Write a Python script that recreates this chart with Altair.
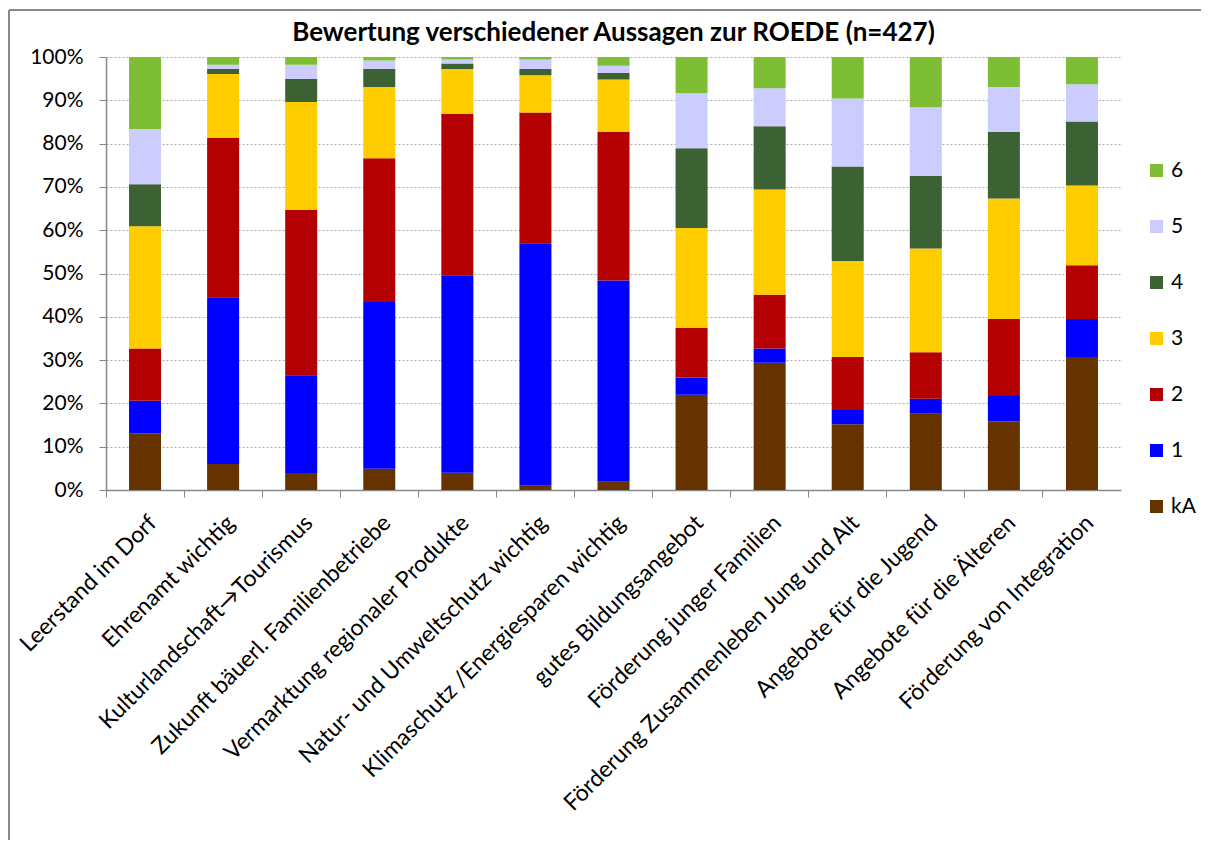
import altair as alt
import pandas as pd

categories = [
    "Leerstand im Dorf",
    "Ehrenamt wichtig",
    "Kulturlandschaft→Tourismus",
    "Zukunft bäuerl. Familienbetriebe",
    "Vermarktung regionaler Produkte",
    "Natur- und Umweltschutz wichtig",
    "Klimaschutz /Energiesparen wichtig",
    "gutes Bildungsangebot",
    "Förderung junger Familien",
    "Förderung Zusammenleben Jung und Alt",
    "Angebote für die Jugend",
    "Angebote für die Älteren",
    "Förderung von Integration",
]

series_names = ["kA", "1", "2", "3", "4", "5", "6"]
v_kA = [13.1, 6.0, 3.9, 4.9, 4.0, 1.0, 1.9, 22.0, 29.4, 15.2, 17.6, 15.8, 30.7]
v_1 = [7.5, 38.5, 22.6, 38.5, 45.6, 56.0, 46.5, 4.0, 3.3, 3.3, 3.5, 5.9, 8.8]
v_2 = [12.1, 36.8, 38.2, 33.2, 37.3, 30.2, 34.3, 11.4, 12.4, 12.2, 10.7, 17.8, 12.4]
v_3 = [28.2, 14.8, 24.9, 16.5, 10.3, 8.6, 12.1, 23.1, 24.3, 22.2, 24.0, 27.8, 18.4]
v_4 = [9.7, 1.1, 5.3, 4.1, 1.3, 1.4, 1.5, 18.4, 14.6, 21.8, 16.8, 15.4, 14.8]
v_5 = [12.8, 1.0, 3.3, 2.0, 0.9, 2.2, 1.7, 12.7, 8.8, 15.7, 15.8, 10.4, 8.6]
v_6 = [16.6, 1.8, 1.8, 0.8, 0.6, 0.6, 2.0, 8.4, 7.2, 9.6, 11.6, 6.9, 6.3]

legend_order = ["6", "5", "4", "3", "2", "1", "kA"]
legend_colors = ["#7DBE35", "#CCCCFF", "#3C6133", "#FFCC00", "#B40000", "#0000FF", "#663300"]

series_values = [v_kA, v_1, v_2, v_3, v_4, v_5, v_6]
rows = []
for si, (name, vals) in enumerate(zip(series_names, series_values)):
    for cat, v in zip(categories, vals):
        rows.append({"Aussage": cat, "Bewertung": name, "idx": si, "value": v})
df = pd.DataFrame(rows)

FONT = "Lato"

bars = alt.Chart(df).mark_bar(width=alt.RelativeBandSize(0.41)).encode(
    x=alt.X(
        "Aussage:N",
        sort=categories,
        title=None,
        scale=alt.Scale(paddingInner=0, paddingOuter=0),
        axis=alt.Axis(
            bandPosition=0,
            labelAngle=-45,
            labelAlign="right",
            labelBaseline="middle",
            labelOffset=8,
            labelPadding=22,
            labelFontSize=23,
            labelFont=FONT,
            labelColor="#000000",
            labelLimit=600,
            ticks=True,
            tickSize=7,
            tickColor="#888888",
            domainColor="#888888",
            domainWidth=1.5,
            grid=False,
        ),
    ),
    y=alt.Y(
        "value:Q",
        stack="normalize",
        title=None,
        scale=alt.Scale(domain=[0, 1]),
        axis=alt.Axis(
            format=".0%",
            values=[0, 0.1, 0.2, 0.3, 0.4, 0.5, 0.6, 0.7, 0.8, 0.9, 1.0],
            labelFontSize=21,
            labelFont=FONT,
            labelColor="#000000",
            labelPadding=16,
            tickSize=7,
            tickColor="#888888",
            domainColor="#888888",
            domainWidth=1.5,
            grid=True,
            gridColor="#AAAAAA",
            gridDash=[2, 2],
            gridWidth=1,
        ),
    ),
    color=alt.Color(
        "Bewertung:N",
        scale=alt.Scale(domain=legend_order, range=legend_colors),
        legend=alt.Legend(
            title=None,
            orient="none",
            legendX=1040,
            legendY=103,
            symbolType="square",
            symbolSize=169,
            symbolStrokeWidth=0,
            labelFontSize=21,
            labelFont=FONT,
            labelColor="#000000",
            rowPadding=34,
            labelOffset=4,
        ),
    ),
    order=alt.Order("idx:Q", sort="ascending"),
)

frame_df = pd.DataFrame({"f": [0]})
frame_top = alt.Chart(frame_df).mark_rule(color="#888888", strokeWidth=2).encode(
    x=alt.value(-97), x2=alt.value(1200), y=alt.value(-47)
)
frame_left = alt.Chart(frame_df).mark_rule(color="#888888", strokeWidth=2).encode(
    x=alt.value(-97), y=alt.value(-47), y2=alt.value(900)
)

chart = alt.layer(frame_top, frame_left, bars).properties(
    width=1015,
    height=433,
    title=alt.TitleParams(
        "Bewertung verschiedener Aussagen zur ROEDE (n=427)",
        font=FONT,
        fontSize=26,
        fontWeight="bold",
        color="#000000",
        anchor="middle",
        offset=-37,
    ),
    padding={"left": 98, "top": 49, "right": 80, "bottom": 350},
    autosize=alt.AutoSizeParams(type="none"),
).configure_view(stroke=None)

chart.save("out.html", embed_options={"renderer": "svg", "actions": False})
